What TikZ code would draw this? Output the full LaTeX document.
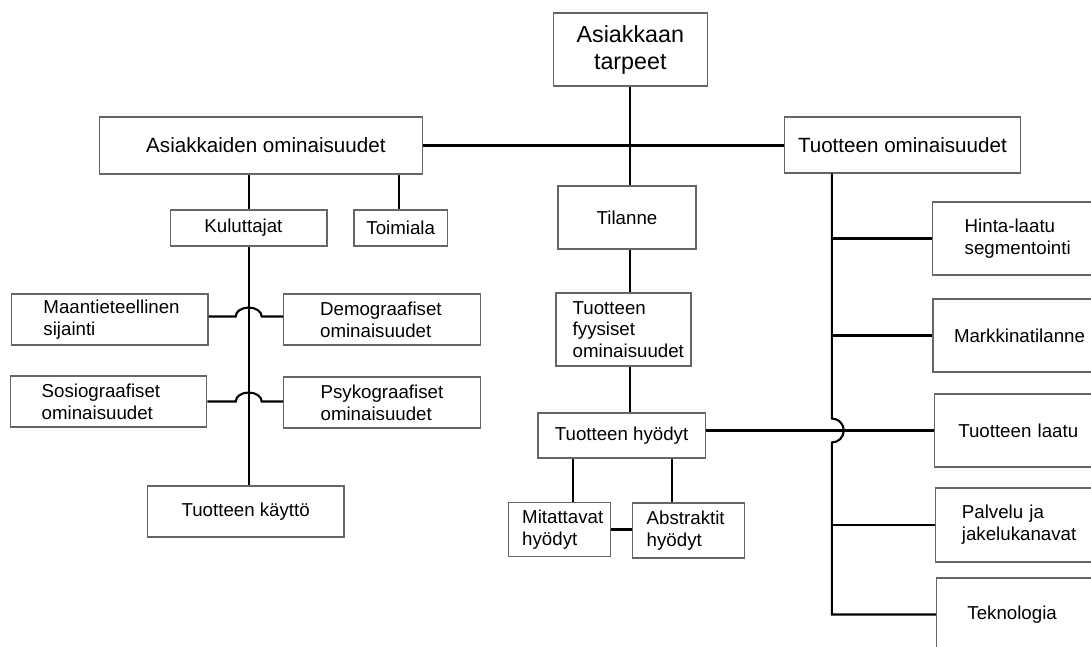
\documentclass[tikz,border=0pt]{standalone}
\usepackage{fontspec}
\setmainfont{Liberation Sans}
\hyphenpenalty=10000
\exhyphenpenalty=10000
\hfuzz=80pt
\hbadness=10000
\newcommand{\ftop}{\fontsize{23.3pt}{27pt}\selectfont}
\newcommand{\fmed}{\fontsize{20.6pt}{24pt}\selectfont}
\newcommand{\fsml}{\fontsize{18.7pt}{21.7pt}\selectfont}
\begin{document}
\begin{tikzpicture}[x=1pt,y=-1pt,
  box/.style={draw=black!60, line width=1.2pt, inner sep=0pt, align=center, font=\fsml},
  lbox/.style 2 args={box, text width=#1, inner xsep=#2, align=left},
  conn/.style={draw=black, line width=2.1pt}]
\useasboundingbox (0,0) rectangle (1091,646);
\clip (0,0) rectangle (1091,646);
\fill[white] (0,0) rectangle (1091,646);

% top level
\node[box, font=\ftop, minimum width=154pt, minimum height=73pt] (at) at (630.3,49.5) {Asiakkaan\\tarpeet};
\node[box, font=\fmed, minimum width=323pt, minimum height=57pt] (ao) at (260.9,145.5) {\hspace*{10pt}Asiakkaiden ominaisuudet};
\node[box, font=\fmed, minimum width=236.3pt, minimum height=56pt] (tom) at (902.4,145) {Tuotteen ominaisuudet};

% left branch
\node[lbox={88.5pt}{34.1pt}, minimum height=36pt] (ku) at (248.7,228) {Kuluttajat};
\node[box, minimum width=93.5pt, minimum height=36pt] (toi) at (400.7,228) {Toimiala};
\node[lbox={132.5pt}{32pt}, minimum height=51pt] (ma) at (109.7,319.5) {Maantieteellinen\\sijainti};
\node[lbox={123.8pt}{36.5pt}, minimum height=51pt] (de) at (382,319.5) {Demograafiset\\ominaisuudet};
\node[lbox={133.8pt}{31.3pt}, minimum height=51pt] (so) at (108.6,401.5) {Sosiograafiset\\ominaisuudet};
\node[lbox={122.8pt}{37pt}, minimum height=51pt] (ps) at (382,402.5) {Psykograafiset\\ominaisuudet};
\node[box, minimum width=196.7pt, minimum height=51pt] (ka) at (245.7,511.5) {Tuotteen käyttö};

% middle branch
\node[box, minimum width=138pt, minimum height=63pt] (ti) at (627,217.5) {Tilanne};
\node[lbox={101.6pt}{16.7pt}, minimum height=73pt] (fy) at (623.5,329.5) {Tuotteen\\fyysiset\\ominaisuudet};
\node[box, minimum width=167.2pt, minimum height=45pt] (hy) at (621.6,435.5) {Tuotteen hyödyt};
\node[lbox={74pt}{14pt}, minimum height=54.4pt] (mi) at (559.2,529.5) {Mitattavat\\hyödyt};
\node[lbox={83pt}{14.5pt}, minimum height=55pt] (ab) at (688.2,530.5) {Abstraktit\\hyödyt};

% right branch
\node[lbox={116pt}{32pt}, minimum height=73pt] (hi) at (1022.7,238.5) {Hinta-laatu\\segmentointi};
\node[lbox={138pt}{21pt}, minimum height=73pt] (mk) at (1023,335.5) {Markkinatilanne};
\node[lbox={132pt}{24pt}, minimum height=73pt] (la) at (1024.3,430.5) {Tuotteen laatu};
\node[lbox={127pt}{26.5pt}, minimum height=74pt] (pa) at (1025.4,525) {Palvelu ja\\jakelukanavat};
\node[lbox={118pt}{31pt}, minimum height=73pt] (te) at (1026.4,614.5) {Teknologia};

% connectors: centre column
\draw[conn] (at.south) -- (at.south |- ti.north);
\draw[conn] (ti.south -| at.south) -- (at.south |- fy.north);
\draw[conn] (fy.south -| at.south) -- (at.south |- hy.north);
\draw[conn] (ao.east) -- (ao.east -| tom.west);

% left branch
\draw[conn] (ku.north |- ao.south) -- (ku.north);
\draw[conn] ([xshift=-2pt]toi.north |- ao.south) -- ([xshift=-2pt]toi.north);
\draw[conn] (ku.south) -- (ku.south |- ka.north);
\coordinate (j1) at ([yshift=3pt]ma.east -| ku.south);
\draw[conn] ([yshift=3pt]ma.east) -- ([xshift=-13pt]j1) arc[start angle=180, end angle=0, x radius=13pt, y radius=9pt] -- (j1 -| de.west);
\coordinate (j2) at (so.east -| ku.south);
\draw[conn] (so.east) -- ([xshift=-13pt]j2) arc[start angle=180, end angle=0, x radius=13pt, y radius=9pt] -- (j2 -| ps.west);

% benefits
\draw[conn] ([xshift=-49pt]hy.south) -- ([xshift=-49pt]hy.south |- mi.north);
\draw[conn] ([xshift=50pt]hy.south) -- ([xshift=50pt]hy.south |- ab.north);
\draw[conn] (mi.east) -- (mi.east -| ab.west);
\draw[conn] (hy.east |- la.west) -- (la.west);

% right branch
\coordinate (v0) at ([xshift=-70.6pt]tom.south);
\coordinate (jx) at (v0 |- la.west);
\draw[conn] (v0) -- ([yshift=12pt]jx) arc[start angle=90, end angle=-90, radius=12pt] -- (v0 |- te.west) -- (te.west);
\draw[conn] (v0 |- hi.west) -- (hi.west);
\draw[conn] (v0 |- mk.west) -- (mk.west);
\draw[conn] (v0 |- pa.west) -- (pa.west);
\end{tikzpicture}
\end{document}
